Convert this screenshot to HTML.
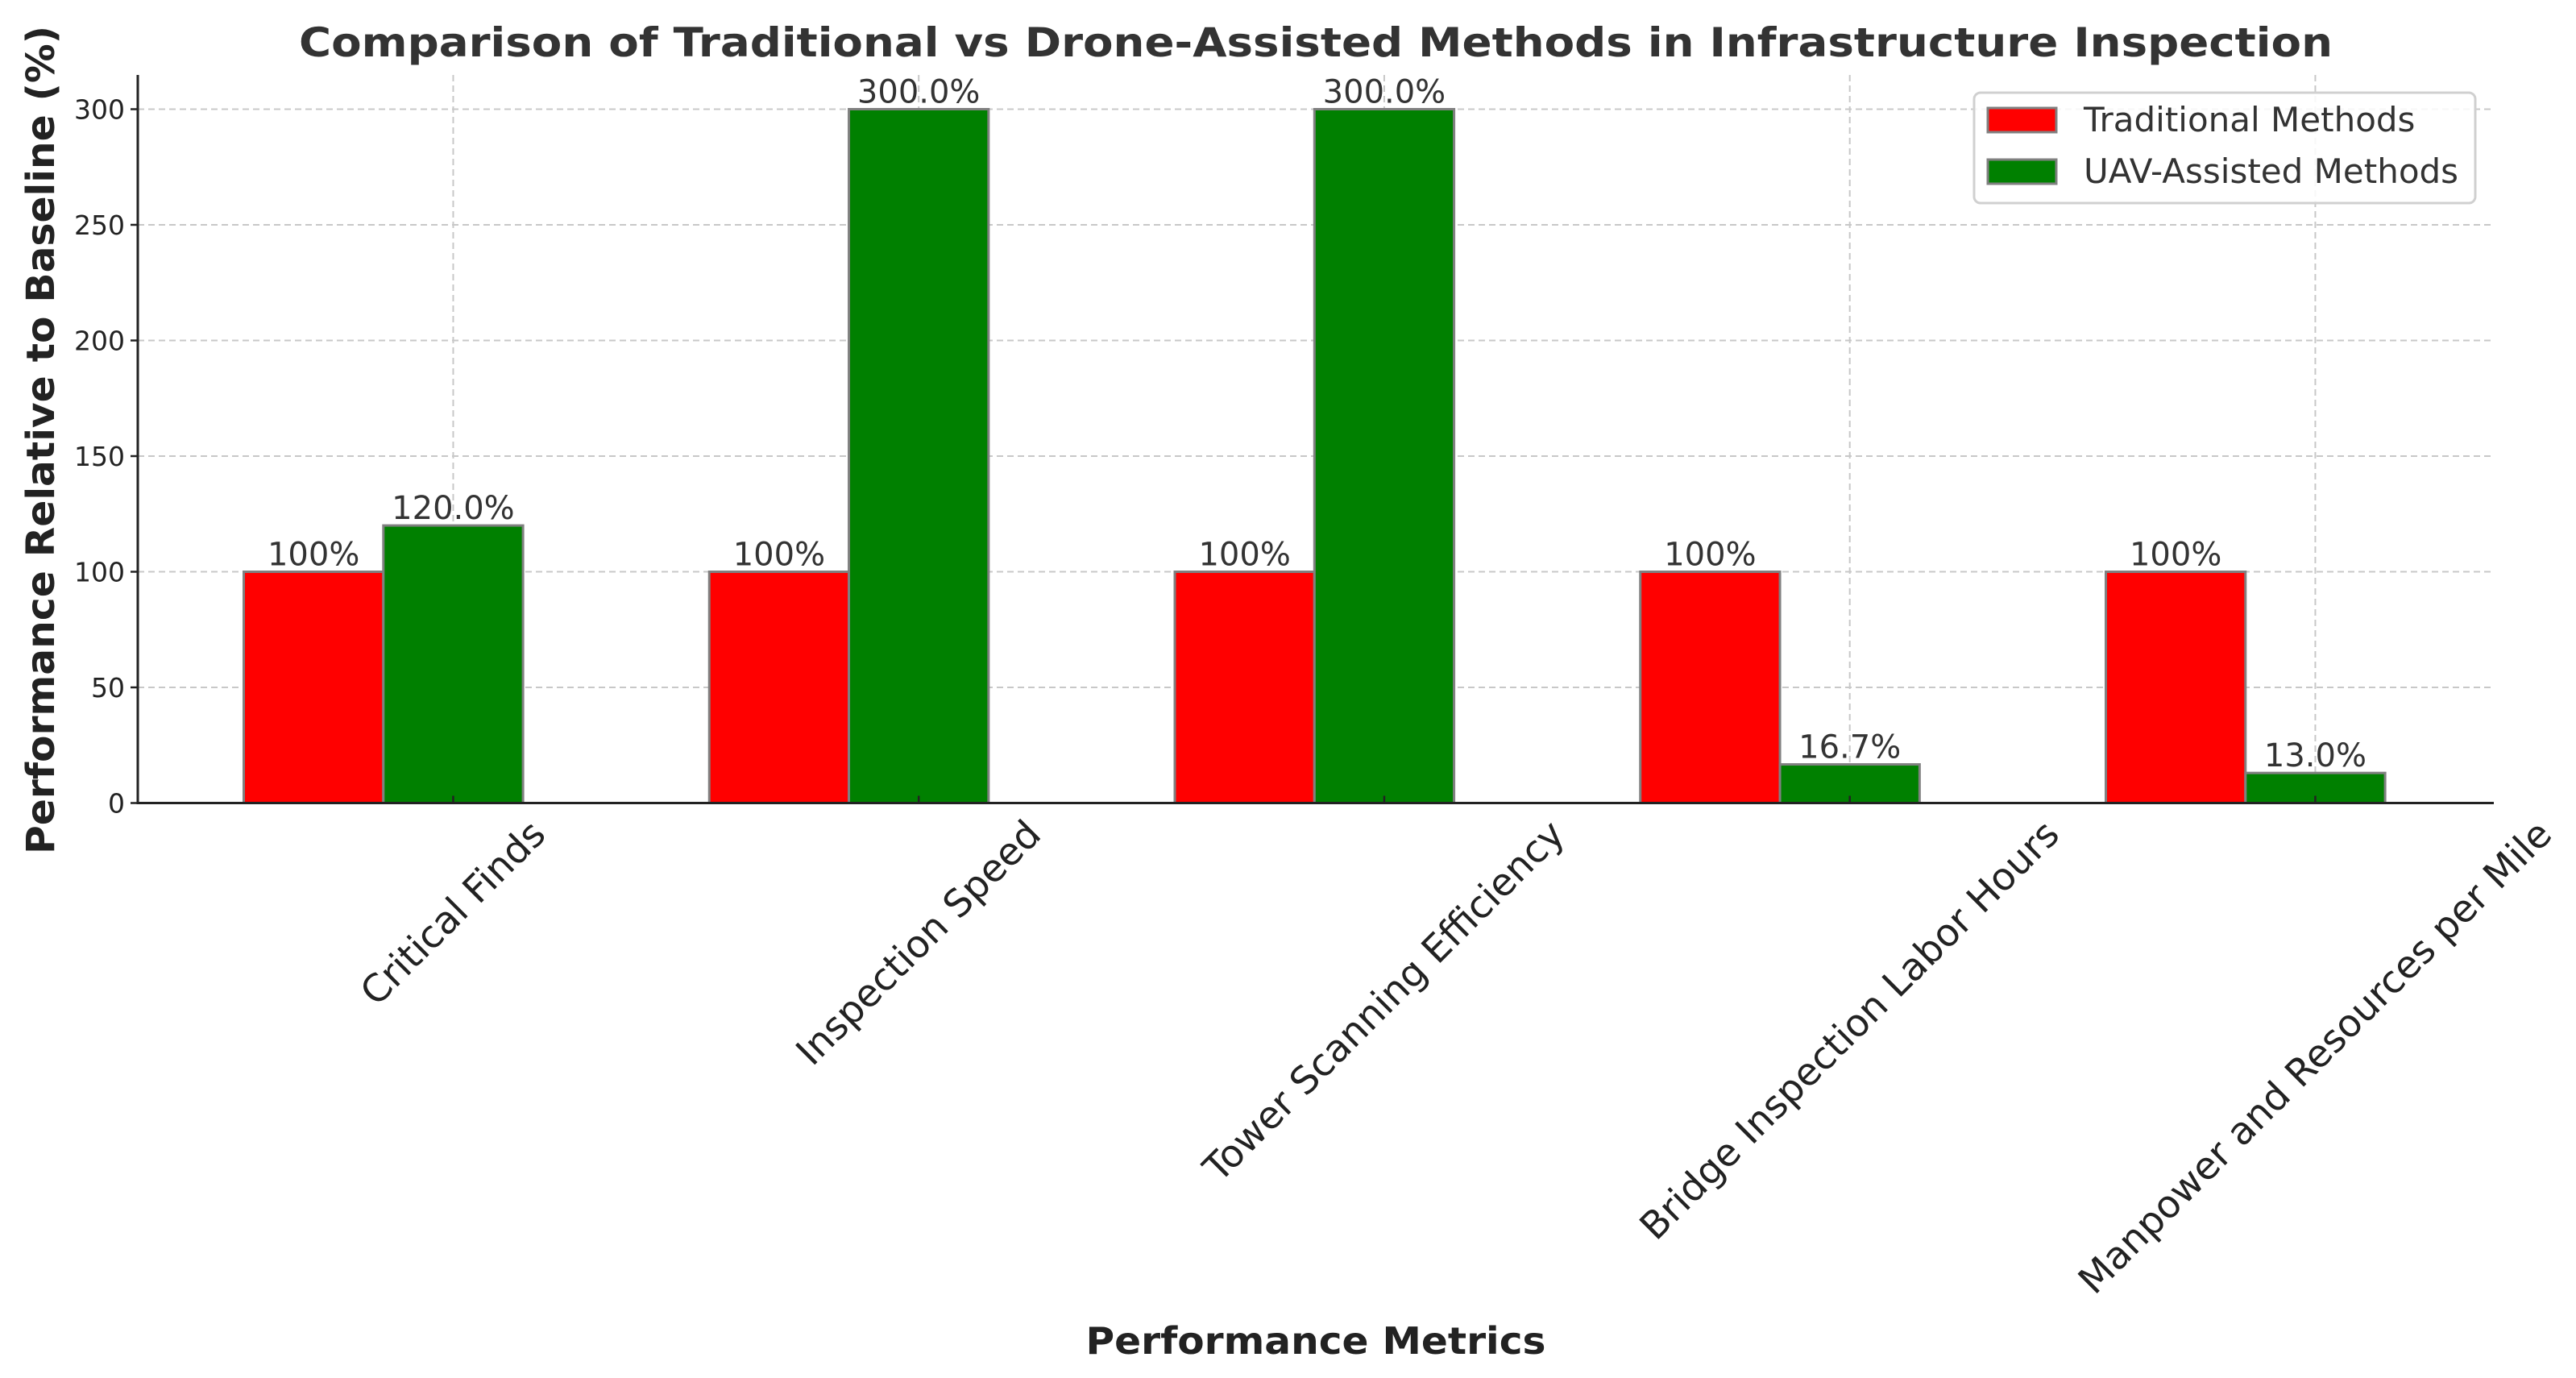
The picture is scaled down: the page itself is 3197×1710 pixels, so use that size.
<!DOCTYPE html>
<html><head><meta charset="utf-8"><style>
body{margin:0;background:#fff;}
svg{display:block;font-family:"DejaVu Sans","Liberation Sans",sans-serif;}
</style></head><body>
<svg id="chart" width="3197" height="1710" viewBox="0 0 3197 1710">
<rect width="3197" height="1710" fill="#fff"/>
<g id="grid"></g><g id="bars"></g><g id="axes"></g><g id="labels"></g>
</svg>
<script>
const categories = ["Critical Finds","Inspection Speed","Tower Scanning Efficiency","Bridge Inspection Labor Hours","Manpower and Resources per Mile"];
const traditionalValues = [100,100,100,100,100];
const uavValues = [120.0,300.0,300.0,16.7,13.0];
const traditionalLabels = ["100%","100%","100%","100%","100%"];
const uavLabels = ["120.0%","300.0%","300.0%","16.7%","13.0%"];
const yTicks = [0,50,100,150,200,250,300];
const seriesNames = ["Traditional Methods","UAV-Assisted Methods"];

const NS="http://www.w3.org/2000/svg";
const L=171,R=3095,T=93,B=996.5;
const unit=577.75, barW=173.3, x0=302.5;
function xRed(i){return x0+i*unit;}
function xGreen(i){return x0+i*unit+barW;}
function xTick(i){return xGreen(i)+barW/2;}
function yS(v){return B - v*2.87;}
function mk(tag,attrs,parent){const e=document.createElementNS(NS,tag);for(const k in attrs)e.setAttribute(k,attrs[k]);parent.appendChild(e);return e;}
const grid=document.getElementById('grid'),bars=document.getElementById('bars'),axes=document.getElementById('axes'),labels=document.getElementById('labels');

yTicks.forEach(t=>{
  const g=mk('line',{x1:L,x2:R,y1:yS(t),y2:yS(t),stroke:'#c8c8c8','stroke-width':2,'stroke-dasharray':'8,5'},grid);
  
  
  const tk=mk('line',{x1:L-9,x2:L,y1:yS(t),y2:yS(t),stroke:'#222','stroke-width':2.5},axes);
  
  
  const tl=mk('text',{x:L-16,y:yS(t)+12,'text-anchor':'end','font-size':33,fill:'#222'},axes);
  tl.textContent=t;
  
  
});
categories.forEach((c,i)=>{
  const g=mk('line',{x1:xTick(i),x2:xTick(i),y1:T,y2:B,stroke:'#c8c8c8','stroke-width':2,'stroke-dasharray':'8,5'},grid);
  
  
  const r=mk('rect',{x:xRed(i),y:yS(traditionalValues[i]),width:barW,height:B-yS(traditionalValues[i]),fill:'#ff0000',stroke:'#808080','stroke-width':3},bars);
  
  
  const gr=mk('rect',{x:xGreen(i),y:yS(uavValues[i]),width:barW,height:B-yS(uavValues[i]),fill:'#008000',stroke:'#808080','stroke-width':3},bars);
  
  
  const tl=mk('text',{x:xRed(i)+barW/2,y:yS(traditionalValues[i])-8,'text-anchor':'middle','font-size':40,fill:'#333'},labels);
  tl.textContent=traditionalLabels[i];
  
  
  const ul=mk('text',{x:xGreen(i)+barW/2,y:yS(uavValues[i])-8,'text-anchor':'middle','font-size':40,fill:'#333'},labels);
  ul.textContent=uavLabels[i];
  
  
  const tk=mk('line',{x1:xTick(i),x2:xTick(i),y1:B,y2:B-9,stroke:'#222','stroke-width':2.5},axes);
  
  
  const xl=mk('text',{x:0,y:0,'text-anchor':'middle','dominant-baseline':'central','font-size':47,fill:'#222'},axes);
  xl.textContent=c;
  
  
  const len=xl.getComputedTextLength();
  const h=(len+47)*0.7071;
  xl.setAttribute('transform','translate('+xTick(i)+','+(B+14+h/2)+') rotate(-45)');
});
const sp=mk('path',{d:'M'+L+','+T+' L'+L+','+B+' L'+R+','+B,fill:'none',stroke:'#222','stroke-width':3},axes);



const title=mk('text',{x:1633,y:70,'text-anchor':'middle','font-size':50,'font-weight':'bold',fill:'#333',textLength:2524,lengthAdjust:'spacingAndGlyphs'},labels);
title.textContent="Comparison of Traditional vs Drone-Assisted Methods in Infrastructure Inspection";


const yt=mk('text',{x:0,y:0,'text-anchor':'middle','font-size':48,'font-weight':'bold',fill:'#222',transform:'translate(67,546) rotate(-90)',textLength:1028,lengthAdjust:'spacingAndGlyphs'},labels);
yt.textContent="Performance Relative to Baseline (%)";


const xt=mk('text',{x:1633,y:1680,'text-anchor':'middle','font-size':46,'font-weight':'bold',fill:'#222',textLength:571,lengthAdjust:'spacingAndGlyphs'},labels);
xt.textContent="Performance Metrics";



const lg=mk('g',{},labels);


mk('rect',{x:2450,y:115,width:622,height:137,rx:8,fill:'#fff','fill-opacity':0.85,stroke:'#d0d0d0','stroke-width':3},lg);
const colors=['#ff0000','#008000'];
seriesNames.forEach((n,i)=>{
  const e=mk('g',{},lg);
  
  
  mk('rect',{x:2467,y:134+i*64,width:85,height:30,fill:colors[i],stroke:'#808080','stroke-width':3},e);
  const t=mk('text',{x:2586,y:163+i*64,'font-size':42,fill:'#333'},e);
  t.textContent=n;
});
</script>
</body></html>
